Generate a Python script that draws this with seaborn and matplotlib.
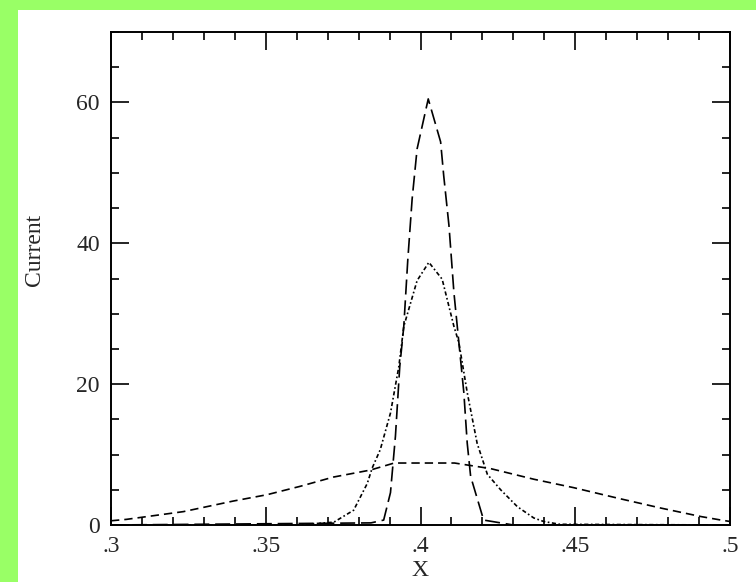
import matplotlib
matplotlib.use("Agg")
import matplotlib.pyplot as plt
from matplotlib.ticker import MultipleLocator
import seaborn as sns
import pandas as pd

# ---- data ----
x_narrow = [0.300, 0.384, 0.3881, 0.3903, 0.3919, 0.3933, 0.3946, 0.3959, 0.3973,
            0.3989, 0.4025, 0.4065, 0.4075, 0.4092, 0.4108, 0.4124, 0.4140, 0.4151,
            0.4162, 0.4204, 0.430, 0.500]
y_narrow = [0.0, 0.3, 0.7, 4.6, 12.6, 22.5, 28.2, 37.7, 46.3,
            53.4, 60.5, 54.4, 49.6, 42.5, 33.0, 25.9, 18.8, 11.6,
            6.9, 0.7, 0.0, 0.0]

x_mid = [0.300, 0.360, 0.372, 0.3784, 0.3828, 0.3844, 0.3870, 0.3903, 0.3930, 0.3946,
         0.3989, 0.4027, 0.4070, 0.4108, 0.4124, 0.4151, 0.4183, 0.4216, 0.4259,
         0.4313, 0.4366, 0.4398, 0.445, 0.500]
y_mid = [0.0, 0.0, 0.4, 2.1, 5.9, 8.1, 10.7, 15.9, 22.5, 28.2,
         34.7, 37.3, 34.9, 28.2, 25.9, 18.8, 11.6, 7.2, 5.0,
         2.6, 1.0, 0.5, 0.1, 0.0]

x_broad = [0.300, 0.305, 0.3234, 0.3395, 0.3504, 0.3612, 0.3718, 0.3838, 0.3915,
           0.4110, 0.4227, 0.4366, 0.4495, 0.4638, 0.4777, 0.4906, 0.4971, 0.500]
y_broad = [0.6, 0.8, 1.9, 3.4, 4.3, 5.5, 6.8, 7.8, 8.8,
           8.8, 8.0, 6.5, 5.3, 3.8, 2.4, 1.2, 0.7, 0.5]

x_ticks = [0.30, 0.35, 0.40, 0.45, 0.50]
x_tick_labels = [".3", ".35", ".4", ".45", ".5"]
y_ticks = [0, 20, 40, 60]
y_tick_labels = ["0", "20", "40", "60"]

sns.set_style("white")
plt.rcParams['font.family'] = ['Liberation Serif', 'DejaVu Serif']

W, H = 756, 582
fig = plt.figure(figsize=(W / 100, H / 100), dpi=100, facecolor="#99FF66")
# white canvas region (behind everything)
bg = fig.add_axes([18 / W, 0, 1 - 18 / W, (H - 10) / H], zorder=-10)
bg.set_facecolor("white")
bg.set_xticks([])
bg.set_yticks([])
for s in bg.spines.values():
    s.set_visible(False)

ax = fig.add_axes([111 / W, 57 / H, (730 - 111) / W, (525 - 32) / H], zorder=1)
ax.set_facecolor("white")

df_n = pd.DataFrame({"x": x_narrow, "y": y_narrow})
df_m = pd.DataFrame({"x": x_mid, "y": y_mid})
df_b = pd.DataFrame({"x": x_broad, "y": y_broad})

sns.lineplot(data=df_n, x="x", y="y", ax=ax, color="black", lw=1.2,
             linestyle=(0, (9, 3.5)))
sns.lineplot(data=df_m, x="x", y="y", ax=ax, color="black", lw=1.2,
             linestyle=(0, (2.5, 1.5, 1, 1.5)))
sns.lineplot(data=df_b, x="x", y="y", ax=ax, color="black", lw=1.2,
             linestyle=(0, (5, 3)))

ax.set_xlim(0.30, 0.50)
ax.set_ylim(0, 70)
ax.set_xticks(x_ticks)
ax.set_xticklabels(x_tick_labels)
ax.set_yticks(y_ticks)
ax.set_yticklabels(y_tick_labels)
ax.xaxis.set_minor_locator(MultipleLocator(0.01))
ax.yaxis.set_minor_locator(MultipleLocator(5))

for s in ax.spines.values():
    s.set_visible(True)
    s.set_color("black")
    s.set_linewidth(1.4)

ax.tick_params(which="both", direction="in", top=True, right=True,
               bottom=True, left=True, color="black", width=1.2)
ax.tick_params(which="major", length=13, labelsize=17, pad=8)
ax.tick_params(which="minor", length=6)

ax.set_xlabel("X", fontsize=17)
ax.set_ylabel("Current", fontsize=17)
ax.xaxis.set_label_coords((420 - 111) / 619, -(570 - 525) / 493)
ax.yaxis.set_label_coords((35 - 111) / 619, (525 - 250) / 493)
ax.xaxis.label.set_verticalalignment("center")
ax.yaxis.label.set_verticalalignment("center")

fig.savefig("out.png", dpi=100, facecolor=fig.get_facecolor())
